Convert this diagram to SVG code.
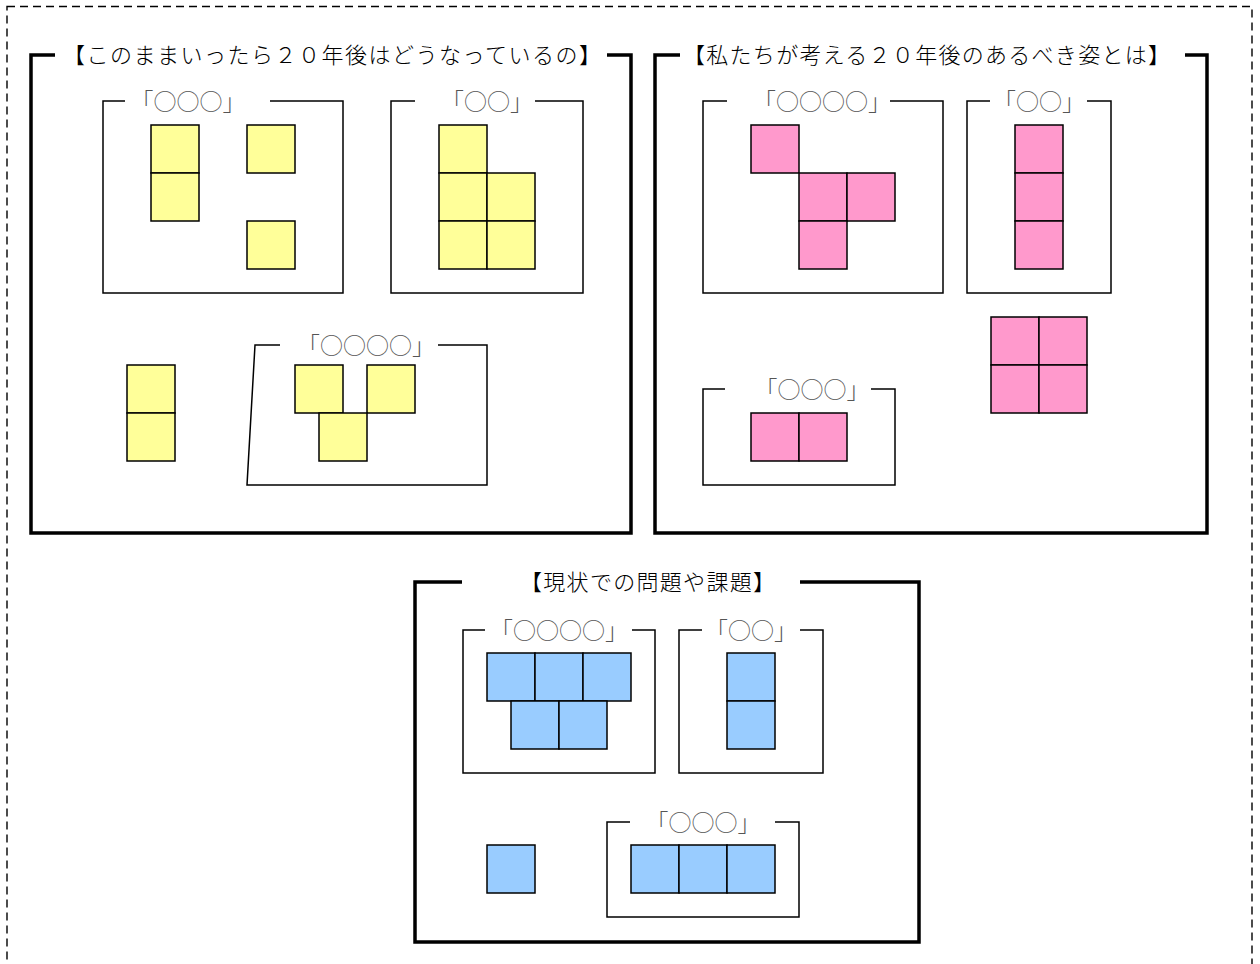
<svg xmlns="http://www.w3.org/2000/svg" width="1260" height="964" viewBox="0 0 1260 964">
<style>
.frame{fill:none;stroke:#000;stroke-width:3.5}
.box{fill:none;stroke:#000;stroke-width:1.5}
.y{fill:#FFFF99;stroke:#000;stroke-width:1.5}
.p{fill:#FF99CC;stroke:#000;stroke-width:1.5}
.b{fill:#99CCFF;stroke:#000;stroke-width:1.5}
.hd{font-family:"Liberation Serif","Noto Sans CJK JP",serif;font-size:22px;font-weight:300;fill:#000}
.lb{font-family:"Noto Sans CJK JP",sans-serif;font-size:23px;font-weight:300;fill:#555;text-anchor:middle}
</style>
<rect x="7" y="6.5" width="1245" height="980" fill="none" stroke="#000" stroke-width="1.4" stroke-dasharray="8,5"/>

<g id="frame-future">
<path class="frame" d="M55,55 H31 V533 H631 V55 H607"/>
<text class="hd" x="63" y="63" textLength="538" lengthAdjust="spacing">【このままいったら２０年後はどうなっているの】</text>
</g>
<g id="frame-ideal">
<path class="frame" d="M680,55 H655 V533 H1207 V55 H1185"/>
<text class="hd" x="683" y="63" textLength="487" lengthAdjust="spacing">【私たちが考える２０年後のあるべき姿とは】</text>
</g>
<g id="frame-issues">
<path class="frame" d="M462,582 H415 V942 H919 V582 H800"/>
<text class="hd" x="520" y="590" textLength="255" lengthAdjust="spacing">【現状での問題や課題】</text>
</g>

<g id="tl-box1">
<path class="box" d="M125,101 H103 V293 H343 V101 H270"/>
<text class="lb" x="188" y="110">「○○○」</text>
<rect class="y" x="151" y="125" width="48" height="48"/>
<rect class="y" x="151" y="173" width="48" height="48"/>
<rect class="y" x="247" y="125" width="48" height="48"/>
<rect class="y" x="247" y="221" width="48" height="48"/>
</g>
<g id="tl-box2">
<path class="box" d="M415,101 H391 V293 H583 V101 H535"/>
<text class="lb" x="487" y="110">「○○」</text>
<rect class="y" x="439" y="125" width="48" height="48"/>
<rect class="y" x="439" y="173" width="48" height="48"/>
<rect class="y" x="487" y="173" width="48" height="48"/>
<rect class="y" x="439" y="221" width="48" height="48"/>
<rect class="y" x="487" y="221" width="48" height="48"/>
</g>
<g id="tl-single">
<rect class="y" x="127" y="365" width="48" height="48"/>
<rect class="y" x="127" y="413" width="48" height="48"/>
</g>
<g id="tl-box3">
<path class="box" d="M280,345 H255 L247,485 H487 V345 H438"/>
<text class="lb" x="366" y="354">「○○○○」</text>
<rect class="y" x="295" y="365" width="48" height="48"/>
<rect class="y" x="367" y="365" width="48" height="48"/>
<rect class="y" x="319" y="413" width="48" height="48"/>
</g>

<g id="tr-boxA">
<path class="box" d="M727,101 H703 V293 H943 V101 H890"/>
<text class="lb" x="822" y="110">「○○○○」</text>
<rect class="p" x="751" y="125" width="48" height="48"/>
<rect class="p" x="799" y="173" width="48" height="48"/>
<rect class="p" x="847" y="173" width="48" height="48"/>
<rect class="p" x="799" y="221" width="48" height="48"/>
</g>
<g id="tr-boxB">
<path class="box" d="M990,101 H967 V293 H1111 V101 H1087"/>
<text class="lb" x="1039" y="110">「○○」</text>
<rect class="p" x="1015" y="125" width="48" height="48"/>
<rect class="p" x="1015" y="173" width="48" height="48"/>
<rect class="p" x="1015" y="221" width="48" height="48"/>
</g>
<g id="tr-single">
<rect class="p" x="991" y="317" width="48" height="48"/>
<rect class="p" x="1039" y="317" width="48" height="48"/>
<rect class="p" x="991" y="365" width="48" height="48"/>
<rect class="p" x="1039" y="365" width="48" height="48"/>
</g>
<g id="tr-boxC">
<path class="box" d="M725,389 H703 V485 H895 V389 H871"/>
<text class="lb" x="812" y="398">「○○○」</text>
<rect class="p" x="751" y="413" width="48" height="48"/>
<rect class="p" x="799" y="413" width="48" height="48"/>
</g>

<g id="b-boxD">
<path class="box" d="M485,630 H463 V773 H655 V630 H632"/>
<text class="lb" x="559" y="639">「○○○○」</text>
<rect class="b" x="487" y="653" width="48" height="48"/>
<rect class="b" x="535" y="653" width="48" height="48"/>
<rect class="b" x="583" y="653" width="48" height="48"/>
<rect class="b" x="511" y="701" width="48" height="48"/>
<rect class="b" x="559" y="701" width="48" height="48"/>
</g>
<g id="b-boxE">
<path class="box" d="M702,630 H679 V773 H823 V630 H800"/>
<text class="lb" x="751" y="639">「○○」</text>
<rect class="b" x="727" y="653" width="48" height="48"/>
<rect class="b" x="727" y="701" width="48" height="48"/>
</g>
<g id="b-single">
<rect class="b" x="487" y="845" width="48" height="48"/>
</g>
<g id="b-boxF">
<path class="box" d="M630,822 H607 V917 H799 V822 H775"/>
<text class="lb" x="703" y="831">「○○○」</text>
<rect class="b" x="631" y="845" width="48" height="48"/>
<rect class="b" x="679" y="845" width="48" height="48"/>
<rect class="b" x="727" y="845" width="48" height="48"/>
</g>
<g id="connectors"/>
</svg>
